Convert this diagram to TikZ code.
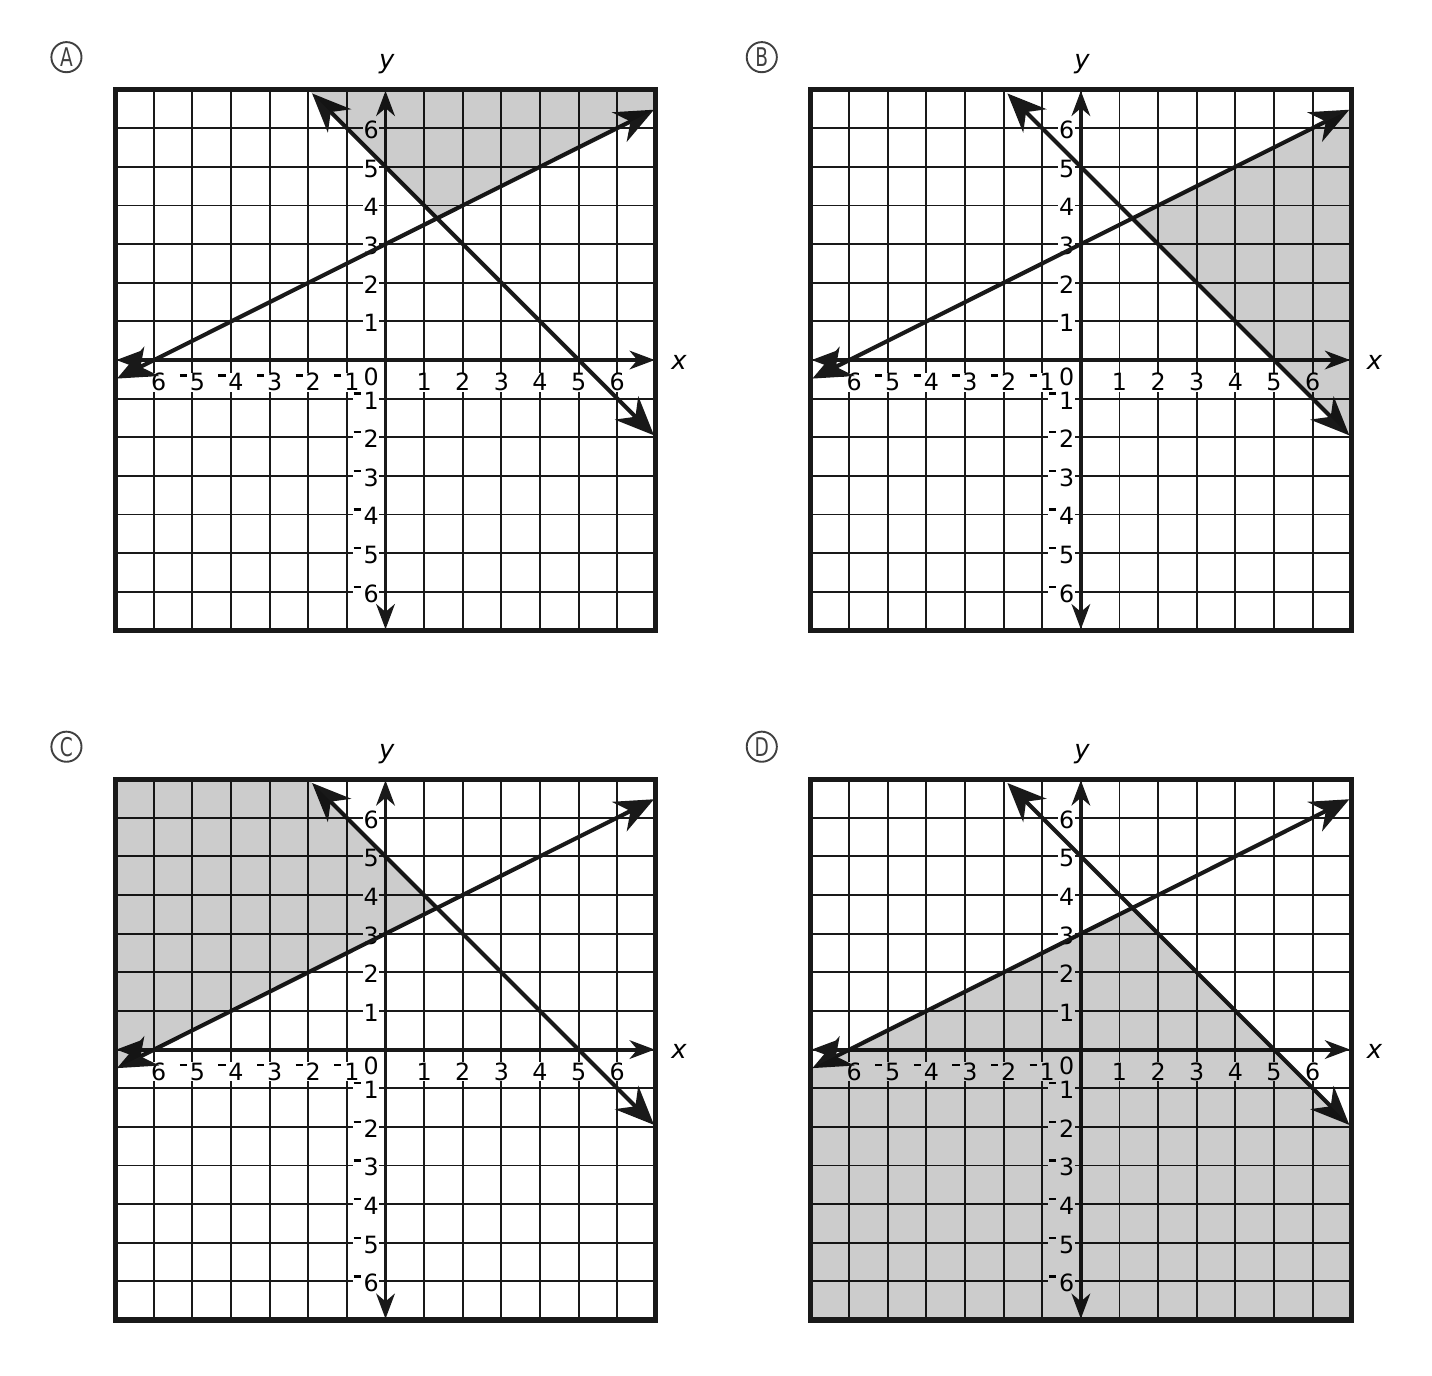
\documentclass[tikz,border=0pt]{standalone}
\usepackage{fontspec}
\setmainfont{DejaVu Sans}
\usetikzlibrary{arrows.meta}
\tikzset{
  frame/.style={draw=black!90, line width=3.7pt},
  gridline/.style={draw=black!90, line width=1.4pt},
  axis/.style={draw=black!90, line width=2.9pt,
    {Stealth[length=6.5mm, width=4.8mm, inset=2mm]}-{Stealth[length=6.5mm, width=4.8mm, inset=2mm]}},
  graphline/.style={draw=black!90, line width=3pt,
    {Stealth[length=10mm, width=8.5mm, inset=3.2mm]}-{Stealth[length=10mm, width=8.5mm, inset=3.2mm]}},
  shaded/.style={fill=black!20},
  ticklbl/.style={font=\fontsize{17.5}{20}\selectfont, fill=white, inner sep=0.5pt},
  axislbl/.style={font=\fontsize{19}{22}\selectfont\itshape, inner sep=1pt},
  choice/.style={circle, draw=black!75, line width=1.4pt, text=black!75, minimum size=7.8mm, inner sep=0pt,
    font=\fontsize{19}{22}\selectfont}
}
\newcommand{\supminus}{\raisebox{0.6em}{\rule{0.3em}{0.1em}}\kern0.12em}
% #1 shift, #2 letter, #3 region that is shaded
\newcommand{\drawpanel}[3]{%
\begin{scope}[shift={#1}]
  \fill[white] (-7,-7) rectangle (7,7);
  \foreach \k in {-6,...,6} {
    \draw[gridline] (\k,-7) -- (\k,7);
    \draw[gridline] (-7,\k) -- (7,\k);
  }
  \foreach \v in {1,...,6} {
    \node[ticklbl, anchor=base] (#2xn\v) at (-\v,-0.8) {\supminus\v};
    \node[ticklbl, anchor=base] (#2xp\v) at (\v,-0.8) {\v};
    \node[ticklbl, anchor=base east] (#2yp\v) at (-0.15,\v-0.27) {\v};
    \node[ticklbl, anchor=base east] (#2yn\v) at (-0.15,-\v-0.27) {\supminus\v};
  }
  \node[ticklbl, anchor=base] (#2zero) at (-0.37,-0.65) {0};
  \draw[axis] (-6.97,0) -- (6.97,0);
  \draw[axis] (0,-6.97) -- (0,6.97);
  \draw[graphline] (-6.95,-0.48) -- (6.95,6.48);
  \draw[graphline] (-1.9,6.9) -- (6.95,-1.95);
  \begin{scope}[blend mode=multiply]
    \fill[shaded] #3;
  \end{scope}
  \draw[frame] (-7,-7) rectangle (7,7);
  \node[axislbl] (#2ax) at (7.6,-0.06) {x};
  \node[axislbl] (#2ay) at (0.03,7.66) {y};
  \node[choice] (#2) at (-8.26,7.84) {\scalebox{0.72}[1]{#2}};
\end{scope}}

\begin{document}
\begin{tikzpicture}
\useasboundingbox (-9.98,-26.30) rectangle (27.09,9.32);

\drawpanel{(0,0)}{A}{(-2,7) -- (4/3,11/3) -- (7,6.5) -- (7,7) -- cycle}
\drawpanel{(18,0)}{B}{(4/3,11/3) -- (7,6.5) -- (7,-2) -- cycle}
\drawpanel{(0,-17.85)}{C}{(-7,7) -- (-2,7) -- (4/3,11/3) -- (-7,-0.5) -- cycle}
\drawpanel{(18,-17.85)}{D}{(-7,-0.5) -- (4/3,11/3) -- (7,-2) -- (7,-7) -- (-7,-7) -- cycle}

\end{tikzpicture}
\end{document}
